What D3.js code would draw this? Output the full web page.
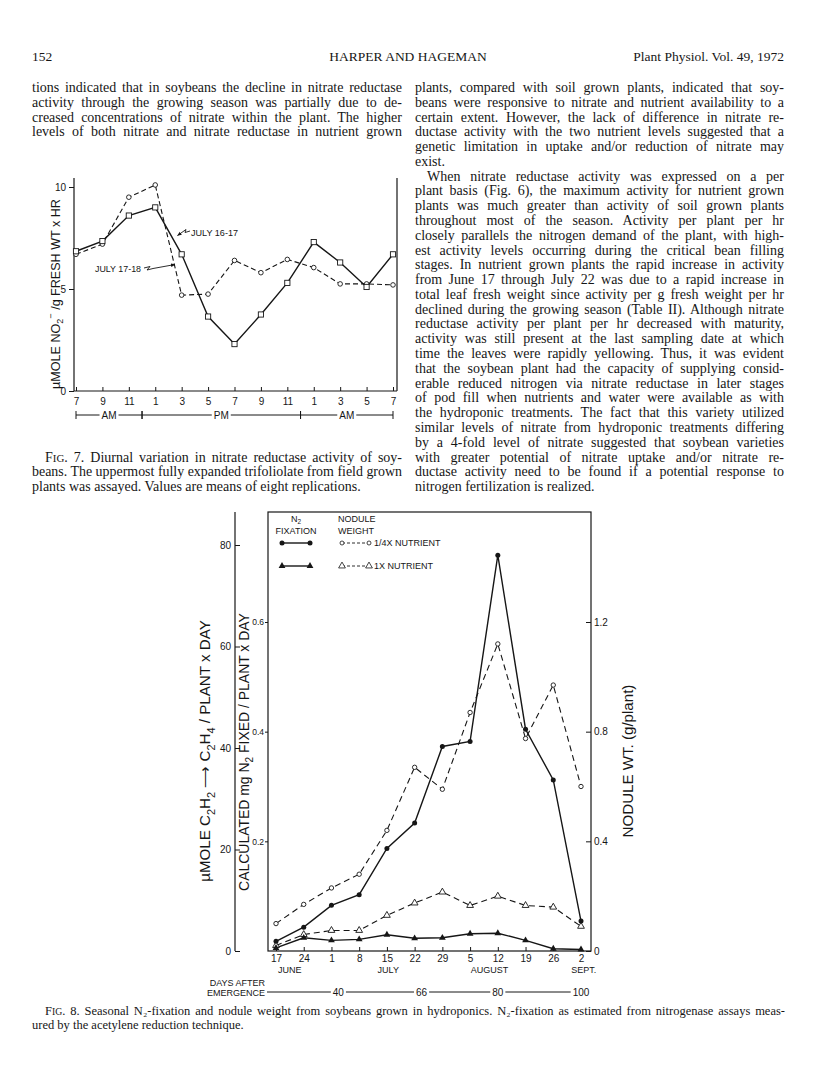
<!DOCTYPE html>
<html><head><meta charset="utf-8">
<script src="https://cdn.jsdelivr.net/npm/d3@7"></script>
<style>body{margin:0;background:#fff}svg{display:block}</style>
</head><body>
<svg id="page" width="816" height="1089"></svg>
<script>
// ---------------- DATA ----------------
const fig7Hours = ["7","9","11","1","3","5","7","9","11","1","3","5","7"];
const fig7July1617 = [6.85,7.35,8.6,9.0,6.7,3.65,2.3,3.75,5.3,7.3,6.3,5.1,6.7];
const fig7July1718 = [6.7,7.2,9.5,10.1,4.7,4.75,6.4,5.8,6.45,6.05,5.25,5.25,5.2];
const fig7YTicks = [0,5,10];
const fig7Periods = [{label:"AM",from:0,to:2.5},{label:"PM",from:2.5,to:8.5},{label:"AM",from:8.5,to:12}];

const fig8Dates = ["17","24","1","8","15","22","29","5","12","19","26","2"];
const fig8Months = [{label:"JUNE",at:0.5},{label:"JULY",at:4.05},{label:"AUGUST",at:7.7},{label:"SEPT.",at:11.1}];
const n2QuarterX = [1.9,4.7,9.0,11.1,20.2,25.2,40.3,41.3,78.0,43.7,33.7,5.9];
const n2OneX = [0.6,2.6,2.1,2.3,3.2,2.5,2.6,3.4,3.5,2.1,0.45,0.3];
const noduleQuarterX = [0.10,0.17,0.23,0.28,0.44,0.67,0.59,0.87,1.12,0.775,0.97,0.60];
const noduleOneX = [0.02,0.06,0.075,0.075,0.13,0.175,0.215,0.166,0.2,0.166,0.16,0.09];
const fig8UmoleTicks = [0,20,40,60,80];
const fig8MgTicks = [0.2,0.4,0.6];
const fig8NoduleTicks = [0,0.4,0.8,1.2];
const daysAfterEmergence = [{label:"40",at:2.25},{label:"66",at:5.25},{label:"80",at:8},{label:"100",at:11}];

// ---------------- PAGE TEXT ----------------
const leftColumnLines = [
 "tions indicated that in soybeans the decline in nitrate reductase",
 "activity through the growing season was partially due to de-",
 "creased concentrations of nitrate within the plant. The higher",
 "levels of both nitrate and nitrate reductase in nutrient grown"];
const rightColumnLines = [
 ["plants, compared with soil grown plants, indicated that soy-",0,1],
 ["beans were responsive to nitrate and nutrient availability to a",0,1],
 ["certain extent. However, the lack of difference in nitrate re-",0,1],
 ["ductase activity with the two nutrient levels suggested that a",0,1],
 ["genetic limitation in uptake and/or reduction of nitrate may",0,1],
 ["exist.",0,0],
 ["When nitrate reductase activity was expressed on a per",1,1],
 ["plant basis (Fig. 6), the maximum activity for nutrient grown",0,1],
 ["plants was much greater than activity of soil grown plants",0,1],
 ["throughout most of the season. Activity per plant per hr",0,1],
 ["closely parallels the nitrogen demand of the plant, with high-",0,1],
 ["est activity levels occurring during the critical bean filling",0,1],
 ["stages. In nutrient grown plants the rapid increase in activity",0,1],
 ["from June 17 through July 22 was due to a rapid increase in",0,1],
 ["total leaf fresh weight since activity per g fresh weight per hr",0,1],
 ["declined during the growing season (Table II). Although nitrate",0,1],
 ["reductase activity per plant per hr decreased with maturity,",0,1],
 ["activity was still present at the last sampling date at which",0,1],
 ["time the leaves were rapidly yellowing. Thus, it was evident",0,1],
 ["that the soybean plant had the capacity of supplying consid-",0,1],
 ["erable reduced nitrogen via nitrate reductase in later stages",0,1],
 ["of pod fill when nutrients and water were available as with",0,1],
 ["the hydroponic treatments. The fact that this variety utilized",0,1],
 ["similar levels of nitrate from hydroponic treatments differing",0,1],
 ["by a 4-fold level of nitrate suggested that soybean varieties",0,1],
 ["with greater potential of nitrate uptake and/or nitrate re-",0,1],
 ["ductase activity need to be found if a potential response to",0,1],
 ["nitrogen fertilization is realized.",0,0]];
const fig7Caption = [
 ["F~{IG}. 7. Diurnal variation in nitrate reductase activity of soy-",1,1],
 ["beans. The uppermost fully expanded trifoliolate from field grown",0,1],
 ["plants was assayed. Values are means of eight replications.",0,0]];
const fig8Caption = [
 ["F~{IG}. 8. Seasonal N₂-fixation and nodule weight from soybeans grown in hydroponics. N₂-fixation as estimated from nitrogenase assays meas-",1,1],
 ["ured by the acetylene reduction technique.",0,0]];

// ---------------- HELPERS ----------------
const svg = d3.select("#page");
const SERIF = "'Liberation Serif','Times New Roman',serif";
const SANS = "'Liberation Sans',Arial,Helvetica,sans-serif";
const INK = "#161616";

function rich(sel, str, fs) {
  const tokens = str.split(/(_\{[^}]*\}|\^\{[^}]*\}|~\{[^}]*\})/).filter(s => s.length);
  let shift = 0;
  tokens.forEach(tok => {
    let type = "n", s = tok;
    if (tok.startsWith("_{")) { type = "sub"; s = tok.slice(2,-1); }
    else if (tok.startsWith("^{")) { type = "sup"; s = tok.slice(2,-1); }
    else if (tok.startsWith("~{")) { type = "sc"; s = tok.slice(2,-1); }
    const target = type === "sub" ? fs*0.3 : type === "sup" ? -fs*0.4 : 0;
    const ts = sel.append("tspan").attr("dy", target - shift).text(s);
    if (type === "sub" || type === "sup") ts.attr("font-size", fs*0.72);
    if (type === "sc") ts.attr("font-size", fs*0.78);
    shift = target;
  });
}

function textLine(x, y, str, width, justify, fs, family) {
  const t = svg.append("text").attr("x", x).attr("y", y)
    .attr("font-family", family || SERIF).attr("font-size", fs).attr("fill", INK);
  rich(t, str, fs);
  const w = t.node().getComputedTextLength();
  const spaces = (str.match(/ /g) || []).length;
  if (w > width) t.attr("textLength", width).attr("lengthAdjust", "spacingAndGlyphs");
  else if (justify && spaces) t.style("word-spacing", ((width - w) / spaces) + "px");
  return t;
}

function rotatedLabel(cx, cy, str, length, fs0) {
  const g = svg.append("g");
  let t = g.append("text").attr("font-family", SANS).attr("font-size", fs0);
  rich(t, str, fs0);
  const w = t.node().getComputedTextLength();
  t.remove();
  const fs = fs0 * length / w;
  g.attr("transform", `translate(${cx + fs*0.36},${cy}) rotate(-90)`);
  t = g.append("text").attr("font-family", SANS).attr("font-size", fs)
    .attr("text-anchor", "middle").attr("fill", INK);
  rich(t, str, fs);
}

// ---------------- HEADER & BODY ----------------
svg.append("text").attr("x",32).attr("y",61).attr("font-family",SERIF).attr("font-size",13.5).attr("fill",INK).text("152");
svg.append("text").attr("x",408).attr("y",61).attr("text-anchor","middle").attr("font-family",SERIF).attr("font-size",13.5).attr("fill",INK).text("HARPER AND HAGEMAN");
svg.append("text").attr("x",784).attr("y",61).attr("text-anchor","end").attr("font-family",SERIF).attr("font-size",13.5).attr("fill",INK).text("Plant Physiol. Vol. 49, 1972");

const LH = 14.78, BASE = 92, BFS = 14;
leftColumnLines.forEach((s,i) => textLine(32, BASE + i*LH, s, 370, true, BFS));
rightColumnLines.forEach((l,i) => textLine(415 + (l[1]?12:0), BASE + i*LH, l[0], 369 - (l[1]?12:0), l[2], BFS));
fig7Caption.forEach((l,i) => textLine(32 + (l[1]?13:0), BASE + (25+i)*LH, l[0], 370 - (l[1]?13:0), l[2], BFS));
fig8Caption.forEach((l,i) => textLine(32 + (l[1]?13:0), 1015 + i*14, l[0], 753 - (l[1]?13:0), l[2], 12.5));

// ---------------- FIGURE 7 ----------------
const x7 = d3.scaleLinear().domain([0,12]).range([76,393]);
const y7 = d3.scaleLinear().domain([0,10]).range([391,187]);
const f7 = svg.append("g");
f7.append("line").attr("x1",74).attr("x2",74).attr("y1",178).attr("y2",y7(0)).attr("stroke",INK).attr("stroke-width",1.2);
f7.append("line").attr("x1",397).attr("x2",397).attr("y1",178).attr("y2",y7(0)).attr("stroke",INK).attr("stroke-width",1.2);
f7.append("line").attr("x1",74).attr("x2",397).attr("y1",y7(0)).attr("y2",y7(0)).attr("stroke",INK).attr("stroke-width",1.2);

const ax7 = f7.append("g").attr("transform",`translate(0,${y7(0)})`)
  .call(d3.axisBottom(x7).tickValues(d3.range(13)).tickFormat(i => fig7Hours[i]).tickSizeInner(-4).tickSizeOuter(0).tickPadding(7));
const ay7 = f7.append("g").attr("transform","translate(74,0)")
  .call(d3.axisLeft(y7).tickValues(fig7YTicks).tickSize(5).tickPadding(3));
[ax7, ay7].forEach(a => {
  a.select(".domain").remove();
  a.attr("font-family", SANS).attr("font-size", 10);
  a.selectAll("line").attr("stroke", INK);
  a.selectAll("text").attr("fill", INK);
});

const pmY = 415;
fig7Periods.forEach(p => {
  const cx = (x7(p.from) + x7(p.to)) / 2;
  const t = f7.append("text").attr("x",cx).attr("y",pmY+3.5).attr("text-anchor","middle")
    .attr("font-family",SANS).attr("font-size",10).attr("fill",INK).text(p.label);
  const hw = t.node().getComputedTextLength()/2 + 2;
  f7.append("line").attr("x1",x7(p.from)).attr("x2",cx-hw).attr("y1",pmY).attr("y2",pmY).attr("stroke",INK);
  f7.append("line").attr("x1",cx+hw).attr("x2",x7(p.to)).attr("y1",pmY).attr("y2",pmY).attr("stroke",INK);
  [p.from, p.to].forEach(v => f7.append("line").attr("x1",x7(v)).attr("x2",x7(v)).attr("y1",pmY-4).attr("y2",pmY+4).attr("stroke",INK));
});

const line7 = d3.line().x((d,i) => x7(i)).y(d => y7(d));
f7.append("path").datum(fig7July1718).attr("d",line7).attr("fill","none").attr("stroke",INK)
  .attr("stroke-width",1.1).attr("stroke-dasharray","5,3");
f7.append("path").datum(fig7July1617).attr("d",line7).attr("fill","none").attr("stroke",INK).attr("stroke-width",1.4);
f7.selectAll(".c7").data(fig7July1718).join("circle").attr("cx",(d,i)=>x7(i)).attr("cy",d=>y7(d))
  .attr("r",2.3).attr("fill","#fff").attr("stroke",INK).attr("stroke-width",0.9);
f7.selectAll(".s7").data(fig7July1617).join("rect").attr("x",(d,i)=>x7(i)-2.6).attr("y",d=>y7(d)-2.6)
  .attr("width",5.2).attr("height",5.2).attr("fill","#fff").attr("stroke",INK).attr("stroke-width",0.9);

const defs = svg.append("defs");
defs.append("marker").attr("id","arr").attr("viewBox","0 0 10 10").attr("refX",9).attr("refY",5)
  .attr("markerWidth",5).attr("markerHeight",5).attr("orient","auto")
  .append("path").attr("d","M0,1 L10,5 L0,9 z").attr("fill",INK);
f7.append("text").attr("x",191).attr("y",235.5).attr("font-family",SANS).attr("font-size",9)
  .attr("textLength",47).attr("lengthAdjust","spacingAndGlyphs").attr("fill",INK).text("JULY 16-17");
f7.append("path").attr("d","M190,231 L185,232.5 L186,229.5 L177.5,235.5").attr("fill","none")
  .attr("stroke",INK).attr("stroke-width",0.9).attr("marker-end","url(#arr)");
f7.append("text").attr("x",95).attr("y",271.5).attr("font-family",SANS).attr("font-size",9)
  .attr("textLength",46).attr("lengthAdjust","spacingAndGlyphs").attr("fill",INK).text("JULY 17-18");
f7.append("path").attr("d","M144,268 L150,266.5 L147,270 L153,268.5 L175,264.5").attr("fill","none")
  .attr("stroke",INK).attr("stroke-width",0.9).attr("marker-end","url(#arr)");

rotatedLabel(55, 294, "µMOLE  NO_{2}^{−} /g FRESH WT x HR", 190, 14);

// ---------------- FIGURE 8 ----------------
const x8 = d3.scaleLinear().domain([0,11]).range([276,581]);
const yUm = d3.scaleLinear().domain([0,80]).range([951,545]);
const yMg = d3.scaleLinear().domain([0,0.6]).range([951,622]);
const yNod = d3.scaleLinear().domain([0,1.2]).range([951,622]);
const f8 = svg.append("g");
f8.append("rect").attr("x",268).attr("y",512).attr("width",323).attr("height",439)
  .attr("fill","none").attr("stroke",INK).attr("stroke-width",1.2);
f8.append("line").attr("x1",235).attr("x2",235).attr("y1",512).attr("y2",951).attr("stroke",INK).attr("stroke-width",1.2);

const aUm = f8.append("g").attr("transform","translate(235,0)")
  .call(d3.axisLeft(yUm).tickValues(fig8UmoleTicks).tickSizeInner(-5).tickSizeOuter(0).tickPadding(4));
const aMg = f8.append("g").attr("transform","translate(268,0)")
  .call(d3.axisLeft(yMg).tickValues(fig8MgTicks).tickFormat(d3.format(".1f")).tickSizeInner(3).tickSizeOuter(0).tickPadding(1));
const aNod = f8.append("g").attr("transform","translate(591,0)")
  .call(d3.axisRight(yNod).tickValues(fig8NoduleTicks).tickFormat(d => d === 0 ? "0" : d3.format(".1f")(d)).tickSizeInner(-5).tickSizeOuter(0).tickPadding(3));
const aX8 = f8.append("g").attr("transform","translate(0,951)")
  .call(d3.axisBottom(x8).tickValues(d3.range(12)).tickFormat(i => fig8Dates[i]).tickSizeInner(-4).tickSizeOuter(0).tickPadding(4));
[aUm, aMg, aNod, aX8].forEach(a => {
  a.select(".domain").remove();
  a.attr("font-family", SANS).attr("font-size", 10);
  a.selectAll("line").attr("stroke", INK);
  a.selectAll("text").attr("fill", INK);
});
aMg.attr("font-size", 8.5);
fig8Months.forEach(m => f8.append("text").attr("x",x8(m.at)).attr("y",973).attr("text-anchor","middle")
  .attr("font-family",SANS).attr("font-size",9).attr("fill",INK).text(m.label));

f8.append("text").attr("x",265).attr("y",985.5).attr("text-anchor","end").attr("font-family",SANS).attr("font-size",9).attr("fill",INK).text("DAYS AFTER");
f8.append("text").attr("x",265).attr("y",995.5).attr("text-anchor","end").attr("font-family",SANS).attr("font-size",9).attr("fill",INK).text("EMERGENCE");
let prev = 267;
daysAfterEmergence.forEach(d => {
  const t = f8.append("text").attr("x",x8(d.at)).attr("y",995.5).attr("text-anchor","middle")
    .attr("font-family",SANS).attr("font-size",10).attr("fill",INK).text(d.label);
  const hw = t.node().getComputedTextLength()/2 + 2;
  f8.append("line").attr("x1",prev).attr("x2",x8(d.at)-hw).attr("y1",992).attr("y2",992).attr("stroke",INK);
  prev = x8(d.at) + hw;
});

const lineUm = d3.line().x((d,i)=>x8(i)).y(d=>yUm(d));
const lineNod = d3.line().x((d,i)=>x8(i)).y(d=>yNod(d));
f8.append("path").datum(noduleQuarterX).attr("d",lineNod).attr("fill","none").attr("stroke",INK).attr("stroke-width",1.1).attr("stroke-dasharray","6,4");
f8.append("path").datum(noduleOneX).attr("d",lineNod).attr("fill","none").attr("stroke",INK).attr("stroke-width",1.1).attr("stroke-dasharray","6,4");
f8.append("path").datum(n2QuarterX).attr("d",lineUm).attr("fill","none").attr("stroke",INK).attr("stroke-width",1.4);
f8.append("path").datum(n2OneX).attr("d",lineUm).attr("fill","none").attr("stroke",INK).attr("stroke-width",1.4);
const tri = d3.symbol(d3.symbolTriangle).size(20);
f8.selectAll(".nq").data(noduleQuarterX).join("circle").attr("cx",(d,i)=>x8(i)).attr("cy",d=>yNod(d))
  .attr("r",2.2).attr("fill","#fff").attr("stroke",INK).attr("stroke-width",0.9);
f8.selectAll(".no").data(noduleOneX).join("path").attr("d",tri).attr("transform",(d,i)=>`translate(${x8(i)},${yNod(d)})`)
  .attr("fill","#fff").attr("stroke",INK).attr("stroke-width",0.9);
f8.selectAll(".fq").data(n2QuarterX).join("circle").attr("cx",(d,i)=>x8(i)).attr("cy",d=>yUm(d))
  .attr("r",2.5).attr("fill",INK);
f8.selectAll(".fo").data(n2OneX).join("path").attr("d",tri).attr("transform",(d,i)=>`translate(${x8(i)},${yUm(d)})`)
  .attr("fill",INK);

const lg = f8.append("g").attr("font-family",SANS).attr("font-size",9).attr("fill",INK);
lg.append("text").attr("x",296).attr("y",521.5).attr("text-anchor","middle").call(t => rich(t,"N_{2}",9));
lg.append("text").attr("x",296).attr("y",533.5).attr("text-anchor","middle").text("FIXATION");
lg.append("text").attr("x",338).attr("y",521.5).text("NODULE");
lg.append("text").attr("x",338).attr("y",533.5).text("WEIGHT");
[[543,"circle","1/4X NUTRIENT"],[566,"tri","1X NUTRIENT"]].forEach(([yy,kind,lab]) => {
  lg.append("line").attr("x1",282).attr("x2",310).attr("y1",yy).attr("y2",yy).attr("stroke",INK).attr("stroke-width",1.4);
  lg.append("line").attr("x1",342).attr("x2",369).attr("y1",yy).attr("y2",yy).attr("stroke",INK).attr("stroke-width",0.9).attr("stroke-dasharray","3,2");
  [282,310].forEach(px => {
    if (kind==="circle") lg.append("circle").attr("cx",px).attr("cy",yy).attr("r",2.5).attr("fill",INK);
    else lg.append("path").attr("d",tri).attr("transform",`translate(${px},${yy})`).attr("fill",INK);
  });
  [342,369].forEach(px => {
    if (kind==="circle") lg.append("circle").attr("cx",px).attr("cy",yy).attr("r",2).attr("fill","#fff").attr("stroke",INK).attr("stroke-width",0.8);
    else lg.append("path").attr("d",tri).attr("transform",`translate(${px},${yy})`).attr("fill","#fff").attr("stroke",INK).attr("stroke-width",0.8);
  });
  lg.append("text").attr("x",374).attr("y",yy+3.3).text(lab);
});

rotatedLabel(205, 751, "µMOLE  C_{2}H_{2} ⟶ C_{2}H_{4} / PLANT x DAY", 262, 13);
rotatedLabel(244, 752, "CALCULATED mg N_{2} FIXED / PLANT x DAY", 278, 13);
rotatedLabel(628, 761, "NODULE WT. (g/plant)", 153, 13);
</script>
</body></html>
